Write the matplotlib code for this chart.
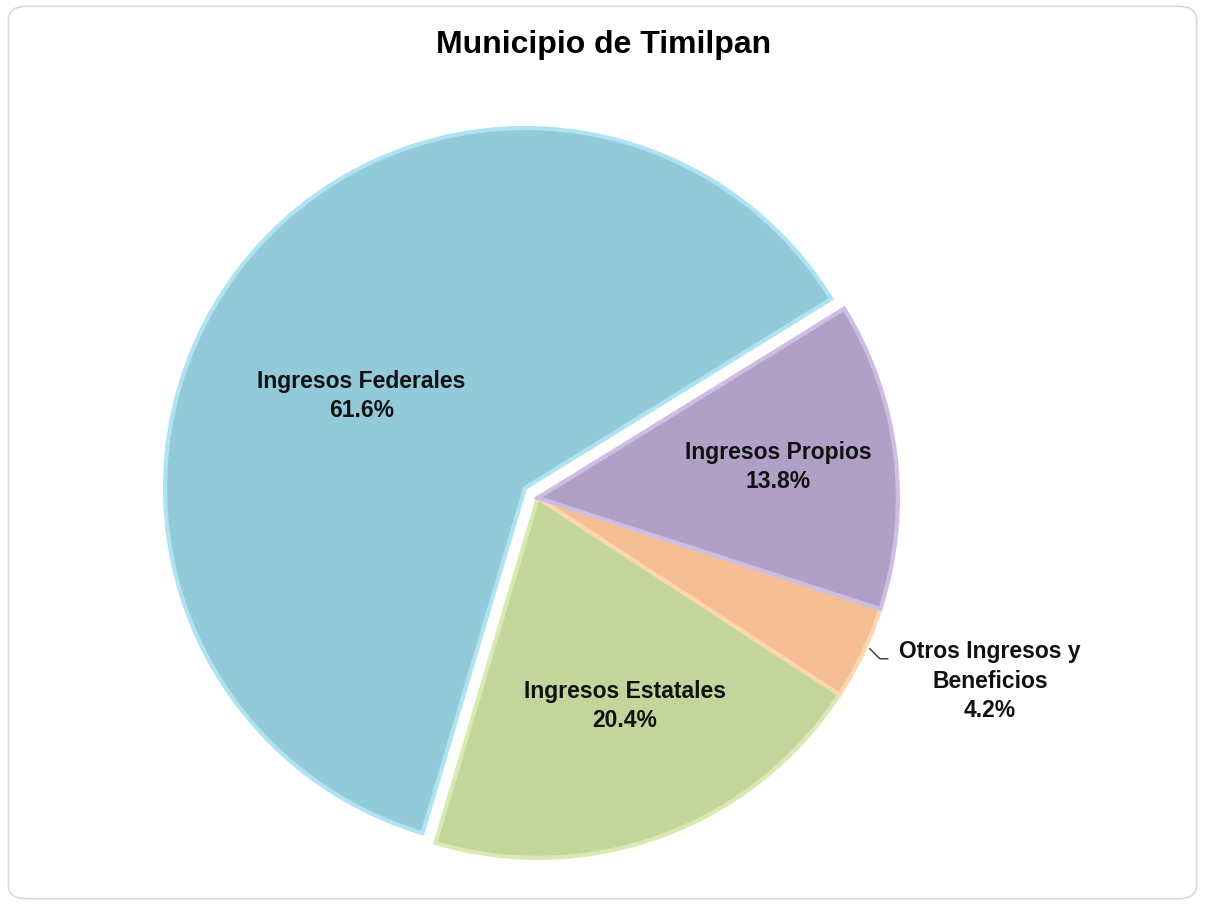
import matplotlib.pyplot as plt
from matplotlib.patches import FancyBboxPatch

plt.rcParams["font.family"] = ["Liberation Sans", "DejaVu Sans"]

# --------------------------------------------------------------------
# Data
# --------------------------------------------------------------------
TITLE = "Municipio de Timilpan"
categorias = ["Ingresos Federales", "Ingresos Estatales",
              "Otros Ingresos y\nBeneficios", "Ingresos Propios"]
porcentajes = [61.6, 20.4, 4.2, 13.8]
colores = ["#93CAD9", "#C3D59B", "#F5BE92", "#B1A0C6"]
bordes = ["#AEE3F2", "#D8EAB0", "#FDD6B0", "#CDBDE2"]
explode = [0.045, 0.0, 0.0, 0.0]

# label positions (pie radius = 1)
pos_etiquetas = [(-0.49, 0.283), (0.242, -0.578), (1.256, -0.51), (0.667, 0.086)]

# --------------------------------------------------------------------
# Figure
# --------------------------------------------------------------------
fig = plt.figure(figsize=(12.05, 9.05), dpi=100)
fig.patch.set_facecolor("white")

frame = FancyBboxPatch((0.007, 0.007), 0.986, 0.986,
                       boxstyle="round,pad=0,rounding_size=0.015",
                       transform=fig.transFigure, facecolor="none",
                       edgecolor="#D9D9D9", linewidth=1.2, zorder=-1)
fig.patches.append(frame)

ax = fig.add_axes([0, 0, 1, 1])
ax.patch.set_alpha(0)

wedges, _ = ax.pie(porcentajes, colors=colores, explode=explode,
                   startangle=31.7, counterclock=True, radius=1.0,
                   wedgeprops=dict(linewidth=3, edgecolor="white"))
for w, b in zip(wedges, bordes):
    w.set_edgecolor(b)
    w.set_linewidth(3)
    w.set_joinstyle("miter")

# pie() resets the limits, so set them afterwards
ax.set_xlim(-1.494, 1.853)
ax.set_ylim(-1.131, 1.383)
ax.set_aspect("equal")
ax.axis("off")

for cat, pct, (x, y) in zip(categorias, porcentajes, pos_etiquetas):
    ax.text(x, y, f"{cat}\n{pct:.1f}%", ha="center", va="center",
            fontsize=16.5, fontweight="bold", color="#111111",
            linespacing=1.36)

# leader line for the small slice
ax.plot([0.922, 0.95, 0.972], [-0.419, -0.447, -0.447],
        color="#333333", linewidth=1)

fig.text(0.501, 0.950, TITLE, ha="center", va="center",
         fontsize=23, fontweight="bold")

fig.savefig("out.png", dpi=100)
